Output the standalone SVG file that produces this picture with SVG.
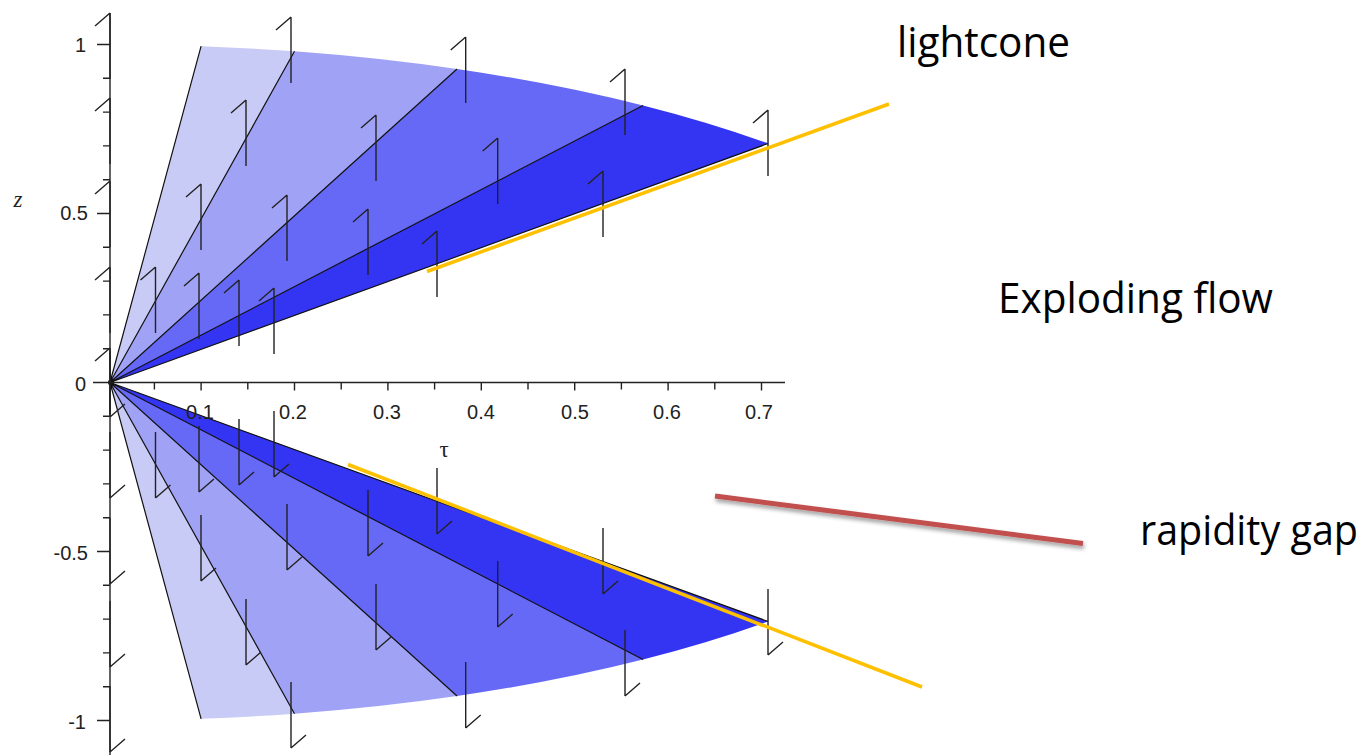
<svg xmlns="http://www.w3.org/2000/svg" xmlns:xlink="http://www.w3.org/1999/xlink" width="1370" height="756" viewBox="0 0 1370 756">
<style>
.r1{fill:#c9cbf7}.r2{fill:#a0a2f5}.r3{fill:#6669f6}.r4{fill:#3434f3}
.wl{stroke:#111;stroke-width:1.2;fill:none}
.ax{stroke:#222;stroke-width:1.4;fill:none}
.arw{stroke:#222;stroke-width:1.4;fill:none}
.tk{font-family:"Liberation Sans",Arial,sans-serif;font-size:20px;fill:#222}
.big{font-family:"Open Sans","Liberation Sans",sans-serif;font-size:42px;fill:#000}
</style>
<defs>
<path id="au" d="M0,0 V66 M0,0 L-15,13"/>
<path id="ad" d="M0,0 V-66 M0,0 L15,-13"/>
<g id="half">
<path class="r1" d="M110,382.5 L201.1,46.2 A934,338 0 0 1 294.5,51.3 Z"/>
<path class="r2" d="M110,382.5 L294.5,51.3 A934,338 0 0 1 457,69 Z"/>
<path class="r3" d="M110,382.5 L457,69 A934,338 0 0 1 643,105.5 Z"/>
<path class="r4" d="M110,382.5 L643,105.5 A934,338 0 0 1 768.1,143.5 Z"/>
<path class="wl" d="M110,382.5 L201.1,46.2 M110,382.5 L294.5,51.3 M110,382.5 L457,69 M110,382.5 L643,105.5 M110,382.5 L768.1,143.5"/>
</g>
<filter id="sh" x="-10%" y="-50%" width="120%" height="200%">
<feGaussianBlur in="SourceAlpha" stdDeviation="2"/>
<feOffset dx="1" dy="3" result="b"/>
<feComponentTransfer><feFuncA type="linear" slope="0.4"/></feComponentTransfer>
<feMerge><feMergeNode/><feMergeNode in="SourceGraphic"/></feMerge>
</filter>
</defs>
<rect width="1370" height="756" fill="#fff"/>
<g id="regions">
<use xlink:href="#half"/>
<use xlink:href="#half" transform="matrix(1,0,0,-1,0,765)"/>
<circle cx="111" cy="382.5" r="3" fill="#111"/>
</g>
<g id="axes">
<path class="ax" d="M93,382.5 H785 M110,13 V755"/>
<path class="ax" d="M154.4,382.5 v7 M201.1,382.5 v8 M247.8,382.5 v7 M294.5,382.5 v8 M341.2,382.5 v7 M387.9,382.5 v8 M434.6,382.5 v7 M481.3,382.5 v8 M528,382.5 v7 M574.7,382.5 v8 M621.4,382.5 v7 M668.1,382.5 v8 M714.8,382.5 v7 M761.5,382.5 v8"/>
<path class="ax" d="M97,44.5 H110 M103,78.3 H110 M103,112.1 H110 M103,145.9 H110 M103,179.7 H110 M97,213.5 H110 M103,247.3 H110 M103,281.1 H110 M103,314.9 H110 M103,348.7 H110 M103,416.3 H110 M103,450.1 H110 M103,483.9 H110 M103,517.7 H110 M97,551.5 H110 M103,585.3 H110 M103,619.1 H110 M103,652.9 H110 M103,686.7 H110 M97,720.5 H110"/>
<g class="tk" text-anchor="end">
<text x="86" y="52">1</text>
<text x="88" y="220">0.5</text>
<text x="86" y="391">0</text>
<text x="88" y="560">-0.5</text>
<text x="86" y="729">-1</text>
</g>
<g class="tk" text-anchor="middle">
<text x="200" y="419">0.1</text>
<text x="293" y="419">0.2</text>
<text x="387" y="419">0.3</text>
<text x="481" y="419">0.4</text>
<text x="575" y="419">0.5</text>
<text x="667" y="419">0.6</text>
<text x="759" y="419">0.7</text>
</g>
<text x="18" y="207" font-family="Liberation Serif,serif" font-style="italic" font-size="23" text-anchor="middle" fill="#222">z</text>
<text x="444" y="457" font-family="Liberation Serif,serif" font-size="23" text-anchor="middle" fill="#222">τ</text>
</g>
<g id="field-arrows" class="arw">
<use xlink:href="#au" x="155.5" y="267"/><use xlink:href="#au" x="201" y="184"/><use xlink:href="#au" x="199" y="273"/>
<use xlink:href="#au" x="246" y="100"/><use xlink:href="#au" x="239" y="280"/><use xlink:href="#au" x="287" y="195"/>
<use xlink:href="#au" x="274" y="288"/><use xlink:href="#au" x="291" y="17"/><use xlink:href="#au" x="465.7" y="37"/>
<use xlink:href="#au" x="376" y="115"/><use xlink:href="#au" x="368" y="209"/><use xlink:href="#au" x="497.7" y="138"/>
<use xlink:href="#au" x="437" y="231"/><use xlink:href="#au" x="625" y="69"/><use xlink:href="#au" x="603" y="171"/>
<use xlink:href="#au" x="768" y="110"/>
<use xlink:href="#au" x="110" y="13"/><use xlink:href="#au" x="110" y="98"/><use xlink:href="#au" x="110" y="181"/>
<use xlink:href="#au" x="110" y="267"/><use xlink:href="#au" x="110" y="348"/>
<use xlink:href="#ad" x="155.5" y="498"/><use xlink:href="#ad" x="201" y="581"/><use xlink:href="#ad" x="199" y="492"/>
<use xlink:href="#ad" x="246" y="665"/><use xlink:href="#ad" x="239" y="485"/><use xlink:href="#ad" x="287" y="570"/>
<use xlink:href="#ad" x="274" y="477"/><use xlink:href="#ad" x="291" y="748"/><use xlink:href="#ad" x="465.7" y="728"/>
<use xlink:href="#ad" x="376" y="650"/><use xlink:href="#ad" x="368" y="556"/><use xlink:href="#ad" x="497.7" y="627"/>
<use xlink:href="#ad" x="437" y="534"/><use xlink:href="#ad" x="625" y="696"/><use xlink:href="#ad" x="603" y="594"/>
<use xlink:href="#ad" x="768" y="655"/>
<use xlink:href="#ad" x="110" y="752"/><use xlink:href="#ad" x="110" y="667"/><use xlink:href="#ad" x="110" y="584"/>
<use xlink:href="#ad" x="110" y="498"/><use xlink:href="#ad" x="110" y="417"/>
</g>
<g id="connectors">
<line x1="427" y1="271.5" x2="889" y2="104" stroke="#ffc000" stroke-width="3.5"/>
<line x1="348" y1="464.5" x2="922" y2="687" stroke="#ffc000" stroke-width="3.5"/>
<line x1="715" y1="496" x2="1083" y2="543.5" stroke="#c0504d" stroke-width="5" filter="url(#sh)"/>
</g>
<g id="label-lightcone"><text class="big" x="897" y="57" textLength="173" lengthAdjust="spacingAndGlyphs">lightcone</text></g>
<g id="label-exploding"><text class="big" x="998" y="313" textLength="275" lengthAdjust="spacingAndGlyphs">Exploding flow</text></g>
<g id="label-rapidity"><text class="big" x="1140" y="545" textLength="218" lengthAdjust="spacingAndGlyphs">rapidity gap</text></g>
</svg>
